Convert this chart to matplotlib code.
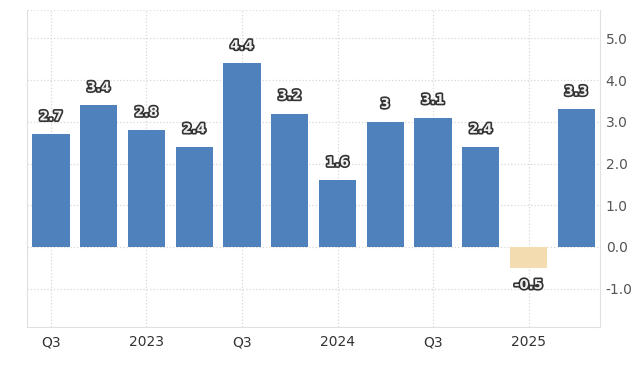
import matplotlib.pyplot as plt
import matplotlib.patheffects as pe
import numpy as np

# quarterly growth, 2022 Q3 .. 2025 Q2
quarters = ["2022Q3", "2022Q4", "2023Q1", "2023Q2", "2023Q3", "2023Q4",
            "2024Q1", "2024Q2", "2024Q3", "2024Q4", "2025Q1", "2025Q2"]
values = [2.7, 3.4, 2.8, 2.4, 4.4, 3.2, 1.6, 3.0, 3.1, 2.4, -0.5, 3.3]
labels = ["2.7", "3.4", "2.8", "2.4", "4.4", "3.2", "1.6", "3", "3.1", "2.4", "-0.5", "3.3"]
tick_idx = [0, 2, 4, 6, 8, 10]
tick_labels = ["Q3", "2023", "Q3", "2024", "Q3", "2025"]
y_ticks = [-1.0, 0.0, 1.0, 2.0, 3.0, 4.0, 5.0]

pos_color = "#4f81bd"
neg_color = "#f3dcb0"

fig = plt.figure(figsize=(6.44, 3.75), dpi=100)
ax = fig.add_axes([0.042, 0.128, 0.890, 0.845])

x = np.arange(len(values))
colors = [pos_color if v >= 0 else neg_color for v in values]
ax.bar(x, values, width=0.78, color=colors, zorder=2)

for xi, v, lab in zip(x, values, labels):
    off = 0.42 if v >= 0 else -0.42
    ax.text(xi, v + off, lab, ha="center", va="center", fontsize=9.5,
            fontweight="bold", color="#f0f0f0", zorder=3,
            path_effects=[pe.withStroke(linewidth=2.4, foreground="#333333")])

ax.set_xlim(-0.5, 11.5)
ax.set_ylim(-1.92, 5.68)
ax.set_xticks(tick_idx)
ax.set_xticklabels(tick_labels, color="#333333")
ax.set_yticks(y_ticks)
ax.set_yticklabels([f"{t:.1f}" for t in y_ticks], color="#555555")
ax.yaxis.tick_right()
ax.tick_params(axis="both", length=0, labelsize=10)
ax.tick_params(axis="x", pad=6)
ax.tick_params(axis="y", pad=4)

ax.grid(True, linestyle=":", color="#d8d8d8", linewidth=0.9, zorder=0)
ax.set_axisbelow(True)
for side in ["left", "right", "bottom"]:
    ax.spines[side].set_color("#e0e0e0")
ax.spines["top"].set_visible(False)
ax.axhline(5.68, color="#e0e0e0", linestyle=":", linewidth=0.9, zorder=0)

fig.savefig("out.png", dpi=100)
